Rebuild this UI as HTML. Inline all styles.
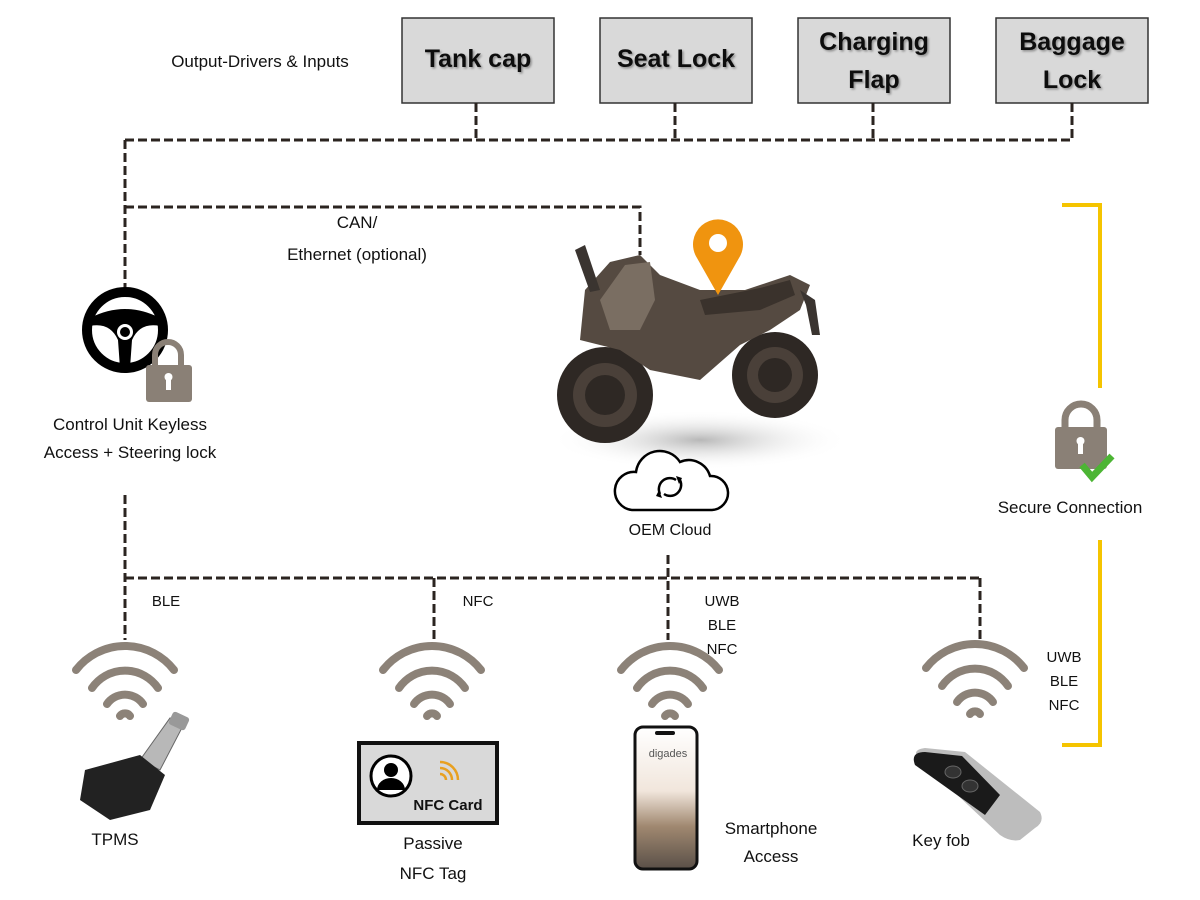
<!DOCTYPE html>
<html><head><meta charset="utf-8"><style>
html,body{margin:0;padding:0;background:#fff;}
svg{display:block;font-family:"Liberation Sans",sans-serif;}
</style></head><body>
<svg width="1200" height="900" viewBox="0 0 1200 900" xmlns="http://www.w3.org/2000/svg">
<defs>
<filter id="sh" x="-10%" y="-10%" width="130%" height="130%"><feDropShadow dx="1.5" dy="1.5" stdDeviation="1" flood-color="#000" flood-opacity="0.35"/></filter>
<radialGradient id="shadow" cx="0.5" cy="0.5" r="0.5"><stop offset="0" stop-color="#888" stop-opacity="0.6"/><stop offset="1" stop-color="#fff" stop-opacity="0"/></radialGradient>
<linearGradient id="scr" x1="0" y1="0" x2="0" y2="1"><stop offset="0" stop-color="#fff"/><stop offset="0.45" stop-color="#f1e6dc"/><stop offset="0.7" stop-color="#a08870"/><stop offset="1" stop-color="#5a5048"/></linearGradient>
</defs>

<g fill="#d9d9d9" stroke="#333" stroke-width="1.5">
<rect x="402" y="18" width="152" height="85"/>
<rect x="600" y="18" width="152" height="85"/>
<rect x="798" y="18" width="152" height="85"/>
<rect x="996" y="18" width="152" height="85"/>
</g>
<g font-weight="bold" font-size="25" text-anchor="middle" fill="#111" filter="url(#sh)">
<text x="478" y="67">Tank cap</text>
<text x="676" y="67">Seat Lock</text>
<text x="874" y="50">Charging</text><text x="874" y="88">Flap</text>
<text x="1072" y="50">Baggage</text><text x="1072" y="88">Lock</text>
</g>
<text x="260" y="67" font-size="17" text-anchor="middle" fill="#111">Output-Drivers &amp; Inputs</text>

<g stroke="#2b2420" stroke-width="3" stroke-dasharray="9,4" fill="none">
<path d="M476 103V140M675 103V140M873 103V140M1072 103V140M125 140H1074"/>
<path d="M125 140V290M125 207H640V255"/>
<path d="M125 495V640M125 578H980M434 578V640M668 555V640M980 578V640"/>
</g>
<text x="357" y="228" font-size="17" text-anchor="middle" fill="#111">CAN/</text>
<text x="357" y="260" font-size="17" text-anchor="middle" fill="#111">Ethernet (optional)</text>

<circle cx="125" cy="330" r="38" fill="none" stroke="#000" stroke-width="10"/>
<path d="M90 318 Q125 300 160 318 L160 326 Q140 322 132 340 L130 368 L120 368 L118 340 Q110 322 90 326Z" fill="#000"/>
<circle cx="125" cy="332" r="8" fill="#fff"/>
<circle cx="125" cy="332" r="5" fill="#000"/>
<path d="M155 366 V355 a13 13 0 0 1 26 0 V366" fill="none" stroke="#8a8076" stroke-width="6"/>
<rect x="146" y="365" width="46" height="37" rx="3" fill="#8a8076"/>
<rect x="166" y="376" width="5" height="14" fill="#fff"/><circle cx="168.5" cy="377" r="4" fill="#fff"/>
<g font-size="17" text-anchor="middle" fill="#111">
<text x="130" y="430">Control Unit Keyless</text>
<text x="130" y="458">Access + Steering lock</text>
</g>

<ellipse cx="700" cy="440" rx="150" ry="30" fill="url(#shadow)"/>
<g>
<circle cx="605" cy="395" r="48" fill="#2e2824"/><circle cx="605" cy="395" r="32" fill="#4a4039"/><circle cx="605" cy="395" r="20" fill="#2e2824"/>
<circle cx="775" cy="375" r="43" fill="#2e2824"/><circle cx="775" cy="375" r="28" fill="#4a4039"/><circle cx="775" cy="375" r="17" fill="#2e2824"/>
<path d="M580 340 L585 290 L610 262 L640 255 L660 275 L700 290 L745 290 L790 275 L810 285 L800 310 L770 330 L740 345 L700 380 L650 370 L620 350Z" fill="#554a41"/>
<path d="M600 300 L625 265 L650 262 L655 300 L640 330 L610 330Z" fill="#7a6e62"/>
<path d="M700 300 L760 288 L790 280 L795 295 L760 310 L705 315Z" fill="#3a322c"/>
<path d="M575 250 L585 245 L600 290 L590 292Z" fill="#3a3430"/>
<path d="M800 290 L815 300 L820 335 L812 335 L806 305Z" fill="#3a3430"/>
</g>
<path d="M718 295 L697 258 A25 25 0 1 1 739 258Z" fill="#f0940f"/>
<circle cx="718" cy="243" r="9" fill="#fff"/>

<path d="M632 510 H712 a17 17 0 0 0 -2 -34 a22 22 0 0 0 -30 -14 a24 24 0 0 0 -44 10 a19 19 0 0 0 -4 38Z" fill="#fff" stroke="#000" stroke-width="2.5"/>
<path d="M660 494 a11 11 0 0 1 16 -14" fill="none" stroke="#000" stroke-width="2.5"/>
<path d="M680 480 a11 11 0 0 1 -16 14" fill="none" stroke="#000" stroke-width="2.5"/>
<path d="M676 476 l6 2 l-3 6Z M662 498 l-6 -2 l3 -6Z" fill="#000"/>
<text x="670" y="535" font-size="16" text-anchor="middle" fill="#111">OEM Cloud</text>

<g stroke="#f5c400" stroke-width="4" fill="none">
<path d="M1062 205 H1100 V388"/>
<path d="M1100 540 V745 H1062"/>
</g>
<path d="M1065 428 V420 a16 16 0 0 1 32 0 V428" fill="none" stroke="#8a8076" stroke-width="7"/>
<rect x="1055" y="427" width="52" height="42" rx="3" fill="#8a8076"/>
<rect x="1078" y="440" width="5" height="14" fill="#fff"/><circle cx="1080.5" cy="441" r="4" fill="#fff"/>
<path d="M1082 465 L1092 477 L1112 456" fill="none" stroke="#4cb534" stroke-width="7"/>
<text x="1070" y="513" font-size="17" text-anchor="middle" fill="#111">Secure Connection</text>

<g fill="none" stroke="#8c8278" stroke-linecap="round" stroke-width="8">
<g transform="translate(125,670)"><path d="M-49 0 A62 62 0 0 1 49 0"/><path d="M-33 18 A40 40 0 0 1 33 18"/><path d="M-18 34 A22 22 0 0 1 18 34"/><path d="M-5 46 A6 6 0 0 1 5 46"/></g>
<g transform="translate(432,670)"><path d="M-49 0 A62 62 0 0 1 49 0"/><path d="M-33 18 A40 40 0 0 1 33 18"/><path d="M-18 34 A22 22 0 0 1 18 34"/><path d="M-5 46 A6 6 0 0 1 5 46"/></g>
<g transform="translate(670,670)"><path d="M-49 0 A62 62 0 0 1 49 0"/><path d="M-33 18 A40 40 0 0 1 33 18"/><path d="M-18 34 A22 22 0 0 1 18 34"/><path d="M-5 46 A6 6 0 0 1 5 46"/></g>
<g transform="translate(975,668)"><path d="M-49 0 A62 62 0 0 1 49 0"/><path d="M-33 18 A40 40 0 0 1 33 18"/><path d="M-18 34 A22 22 0 0 1 18 34"/><path d="M-5 46 A6 6 0 0 1 5 46"/></g>
</g>

<g font-size="15" fill="#111" text-anchor="middle">
<text x="166" y="606">BLE</text>
<text x="478" y="606">NFC</text>
<text x="722" y="606">UWB</text><text x="722" y="630">BLE</text><text x="722" y="654">NFC</text>
<text x="1064" y="662">UWB</text><text x="1064" y="686">BLE</text><text x="1064" y="710">NFC</text>
</g>

<path d="M140 760 L170 718 L185 722 L160 770Z" fill="#b8b8b8" stroke="#666"/>
<rect x="170" y="714" width="18" height="14" rx="3" transform="rotate(25 179 721)" fill="#999"/>
<path d="M85 770 L140 755 L165 775 L150 810 L110 820 L80 800Z" fill="#222"/>
<text x="115" y="845" font-size="17" fill="#111" text-anchor="middle">TPMS</text>

<rect x="359" y="743" width="138" height="80" fill="#d9d9d9" stroke="#111" stroke-width="4"/>
<circle cx="391" cy="776" r="20" fill="#fff" stroke="#000" stroke-width="3"/>
<circle cx="391" cy="770" r="7" fill="#000"/>
<path d="M377 790 a14 12 0 0 1 28 0Z" fill="#000"/>
<g fill="none" stroke="#e8a020" stroke-width="2.5">
<path d="M440 762 a18 18 0 0 1 18 18"/><path d="M440 768 a12 12 0 0 1 12 12"/><path d="M440 774 a6 6 0 0 1 6 6"/>
</g>
<text x="448" y="810" font-size="15" font-weight="bold" text-anchor="middle" fill="#111">NFC Card</text>
<g font-size="17" fill="#111" text-anchor="middle">
<text x="433" y="849">Passive</text><text x="433" y="879">NFC Tag</text>
</g>

<rect x="635" y="727" width="62" height="142" rx="8" fill="url(#scr)" stroke="#111" stroke-width="3"/>
<rect x="655" y="731" width="20" height="4" rx="2" fill="#111"/>
<text x="668" y="757" font-size="11" text-anchor="middle" fill="#555">digades</text>
<g font-size="17" fill="#111" text-anchor="middle">
<text x="771" y="834">Smartphone</text><text x="771" y="862">Access</text>
</g>

<path d="M920 760 Q910 750 925 748 L965 752 L1040 812 Q1045 822 1035 828 L1020 840 Q1010 842 1000 835Z" fill="#bdbdbd"/>
<path d="M915 765 Q910 752 925 752 L962 756 L1000 795 L985 815 Z" fill="#1a1a1a"/>
<ellipse cx="953" cy="772" rx="8" ry="6" fill="#333" stroke="#666"/>
<ellipse cx="970" cy="786" rx="8" ry="6" fill="#333" stroke="#666"/>
<text x="941" y="846" font-size="17" text-anchor="middle" fill="#111">Key fob</text>
</svg>
</body></html>
